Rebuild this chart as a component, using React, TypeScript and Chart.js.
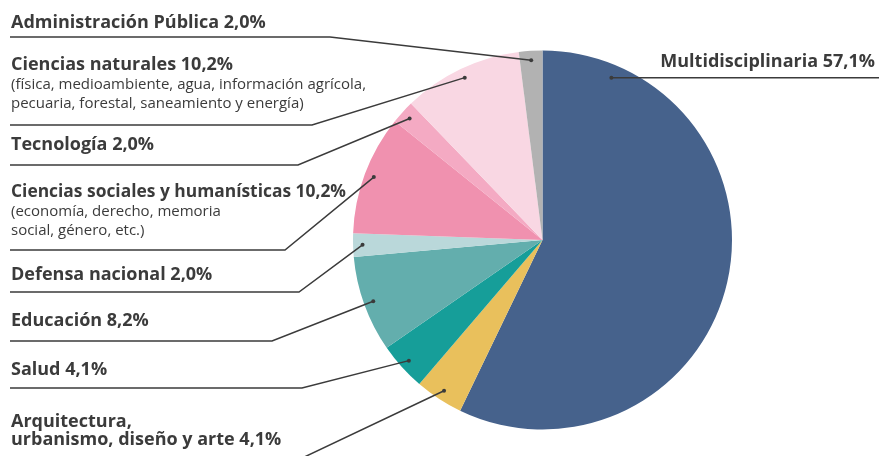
import React, { useEffect, useRef } from "react";
import { Chart, registerables } from "chart.js";

Chart.register(...registerables);

const categories = [
  "Multidisciplinaria",
  "Arquitectura, urbanismo, diseño y arte",
  "Salud",
  "Educación",
  "Defensa nacional",
  "Ciencias sociales y humanísticas",
  "Tecnología",
  "Ciencias naturales",
  "Administración Pública",
];
const values = [57.1, 4.1, 4.1, 8.2, 2.0, 10.2, 2.0, 10.2, 2.0];
const colors = [
  "#46628C",
  "#E9C05C",
  "#169E99",
  "#63AEAD",
  "#BAD8DA",
  "#F091AF",
  "#F4AAC3",
  "#F9D7E3",
  "#B2B2B2",
];

// Label text lines (bold titles, then light descriptions)
const boldLines: string[][] = [
  ["Multidisciplinaria 57,1%"],
  ["Arquitectura,", "urbanismo, diseño y arte 4,1%"],
  ["Salud 4,1%"],
  ["Educación 8,2%"],
  ["Defensa nacional 2,0%"],
  ["Ciencias sociales y humanísticas 10,2%"],
  ["Tecnología 2,0%"],
  ["Ciencias naturales 10,2%"],
  ["Administración Pública 2,0%"],
];
const subLines: string[][] = [
  [],
  [],
  [],
  [],
  [],
  ["(economía, derecho, memoria", "social, género, etc.)"],
  [],
  ["(física, medioambiente, agua, información agrícola,", "pecuaria, forestal, saneamiento y energía)"],
  [],
];

// Layout of the annotations (positions in px)
type Lay = { side: "L" | "R"; textY: number; lineY: number; bendX: number; dotAngle?: number; dotR?: number; maxW?: number };
const layout: Lay[] = [
  { side: "R", textY: 67, lineY: 78, bendX: 879, dotAngle: -67, dotR: 0.93 },
  { side: "L", textY: 427, lineY: 460, bendX: 298 },
  { side: "L", textY: 375, lineY: 388, bendX: 302 },
  { side: "L", textY: 326, lineY: 341, bendX: 272 },
  { side: "L", textY: 280, lineY: 292, bendX: 299 },
  { side: "L", textY: 197, lineY: 250, bendX: 285, maxW: 335 },
  { side: "L", textY: 150, lineY: 165, bendX: 298 },
  { side: "L", textY: 70, lineY: 125, bendX: 312 },
  { side: "L", textY: 28, lineY: 37, bendX: 330 },
];

const TEXT = "#3B3B3B";
const BOLD_FONT = "700 18px 'Open Sans', sans-serif";
const LIGHT_FONT = "400 15px 'Open Sans', sans-serif";

const labelPlugin = {
  id: "leaderLabels",
  afterDraw(chart: any) {
    const ctx = chart.ctx as CanvasRenderingContext2D;
    const meta = chart.getDatasetMeta(0);
    ctx.save();
    meta.data.forEach((arc: any, i: number) => {
      const { x, y, startAngle, endAngle, outerRadius } = arc.getProps(
        ["x", "y", "startAngle", "endAngle", "outerRadius"],
        true
      );
      const lay = layout[i];
      const ang = lay.dotAngle !== undefined ? (lay.dotAngle * Math.PI) / 180 : (startAngle + endAngle) / 2;
      const r = outerRadius * (lay.dotR ?? 0.95);
      const dx = x + Math.cos(ang) * r;
      const dy = y + Math.sin(ang) * r;

      ctx.strokeStyle = TEXT;
      ctx.lineWidth = 1.5;
      ctx.beginPath();
      ctx.moveTo(dx, dy);
      if (lay.side === "L") {
        ctx.lineTo(lay.bendX, lay.lineY);
        ctx.lineTo(10, lay.lineY);
      } else {
        ctx.lineTo(lay.bendX, dy);
      }
      ctx.stroke();
      ctx.fillStyle = TEXT;
      ctx.beginPath();
      ctx.arc(dx, dy, 2, 0, Math.PI * 2);
      ctx.fill();

      ctx.textBaseline = "alphabetic";
      let ty = lay.textY;
      ctx.font = BOLD_FONT;
      boldLines[i].forEach((t, k) => {
        if (k > 0) ty += 18;
        if (lay.side === "L") {
          ctx.textAlign = "left";
          if (lay.maxW) ctx.fillText(t, 11, ty, lay.maxW);
          else ctx.fillText(t, 11, ty);
        } else {
          ctx.textAlign = "right";
          ctx.fillText(t, 875, ty);
        }
      });
      ctx.font = LIGHT_FONT;
      subLines[i].forEach((t) => {
        ty += 19;
        ctx.textAlign = "left";
        ctx.fillText(t, 11, ty);
      });
    });
    ctx.restore();
  },
};

export default function App() {
  const ref = useRef<HTMLCanvasElement>(null);
  useEffect(() => {
    const chart = new Chart(ref.current!, {
      type: "pie",
      data: {
        labels: categories,
        datasets: [
          {
            data: values,
            backgroundColor: colors,
            borderWidth: 0,
          },
        ],
      },
      options: {
        responsive: false,
        animation: false,
        layout: { padding: { left: 353, right: 147, top: 50, bottom: 26 } },
        plugins: {
          legend: { display: false },
          tooltip: { enabled: false },
        },
      },
      plugins: [labelPlugin],
    });
    return () => chart.destroy();
  }, []);
  return (
    <div style={{ position: "absolute", left: 0, top: 0, width: 879, height: 456, background: "#fff" }}>
      <canvas ref={ref} width={879} height={456} />
    </div>
  );
}
